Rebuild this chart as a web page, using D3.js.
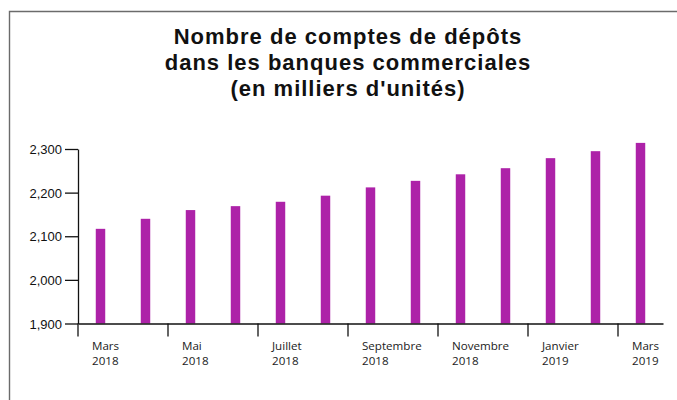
<!DOCTYPE html>
<html lang="fr">
<head>
<meta charset="utf-8">
<title>Nombre de comptes de dépôts</title>
<script src="https://cdn.jsdelivr.net/npm/d3@7"></script>
<style>
  body { margin: 0; background: #fff; }
  .titre { font-family: "Liberation Sans", Arial, sans-serif; font-weight: bold; font-size: 22px; letter-spacing: 1px; fill: #111; }
  .axe-y text { font-family: "Liberation Sans", Arial, sans-serif; font-size: 13px; fill: #111; }
  .axe-x text { font-family: "Open Sans", sans-serif; font-size: 11.6px; fill: #222; }
  .axe-x path, .axe-x line, .axe-y path, .axe-y line { stroke: #111; stroke-width: 1.3; }
</style>
</head>
<body>
<script>
// données (milliers d'unités)
var mois = ["Mars 2018", "Avril 2018", "Mai 2018", "Juin 2018", "Juillet 2018", "Août 2018",
            "Septembre 2018", "Octobre 2018", "Novembre 2018", "Décembre 2018",
            "Janvier 2019", "Février 2019", "Mars 2019"];
var comptes = [2117, 2140, 2160, 2169, 2179, 2193, 2212, 2227, 2242, 2256, 2279, 2295, 2314];
var moisAffiches = ["Mars 2018", "Mai 2018", "Juillet 2018", "Septembre 2018",
                    "Novembre 2018", "Janvier 2019", "Mars 2019"];
var graduationsY = [1900, 2000, 2100, 2200, 2300];
var titre = ["Nombre de comptes de dépôts", "dans les banques commerciales", "(en milliers d'unités)"];

var largeur = 677, hauteur = 400;

var svg = d3.select("body").append("svg")
    .attr("width", largeur)
    .attr("height", hauteur);

// cadre (haut et gauche seulement)
svg.append("path")
    .attr("d", "M9.5,400 V11.5 H677")
    .attr("fill", "none")
    .attr("stroke", "#6b6b6b")
    .attr("stroke-width", 1.4);

// titre
svg.append("text")
    .attr("class", "titre")
    .attr("text-anchor", "middle")
    .selectAll("tspan")
    .data(titre)
    .enter()
    .append("tspan")
    .attr("x", 348)
    .attr("y", function(d, i){ return 44 + i * 26; })
    .text(function(d){ return d; });

// échelles
var x = d3.scaleBand()
    .domain(mois)
    .range([78, 663])
    .paddingInner(0.79)
    .paddingOuter(0.395);

var y = d3.scaleLinear()
    .domain([1900, 2300])
    .range([323.5, 149]);

// barres
svg.selectAll("rect.barre")
    .data(comptes)
    .enter()
    .append("rect")
    .attr("class", "barre")
    .attr("x", function(d, i){ return x(mois[i]); })
    .attr("width", x.bandwidth())
    .attr("y", function(d){ return y(d); })
    .attr("height", function(d){ return y(1900) - y(d); })
    .attr("fill", "#ad22a8");

// axe y
var axeY = svg.append("g")
    .attr("class", "axe-y")
    .attr("transform", "translate(78,0)")
    .call(d3.axisLeft(y)
        .tickValues(graduationsY)
        .tickFormat(d3.format(","))
        .tickSize(13)
        .tickSizeOuter(0)
        .tickPadding(3));
axeY.selectAll("text").attr("dy", "0.36em");

// axe x : graduations au début de chaque bande, étiquettes sur deux lignes
var axeX = svg.append("g")
    .attr("class", "axe-x")
    .attr("transform", "translate(0," + y(1900) + ")")
    .call(d3.axisBottom(x)
        .tickValues(moisAffiches)
        .tickSize(13)
        .tickSizeOuter(0));

axeX.selectAll(".tick")
    .attr("transform", function(d){ return "translate(" + (x(d) - x.step() * x.paddingOuter()) + ",0)"; });

axeX.selectAll(".tick text").each(function(d){
    var t = d3.select(this).text("").attr("text-anchor", "start").attr("y", 0).attr("dy", null);
    var parts = d.split(" ");
    t.append("tspan").attr("x", 14).attr("y", 26).text(parts[0]);
    t.append("tspan").attr("x", 14).attr("y", 41.5).text(parts[1]);
});
</script>
</body>
</html>
